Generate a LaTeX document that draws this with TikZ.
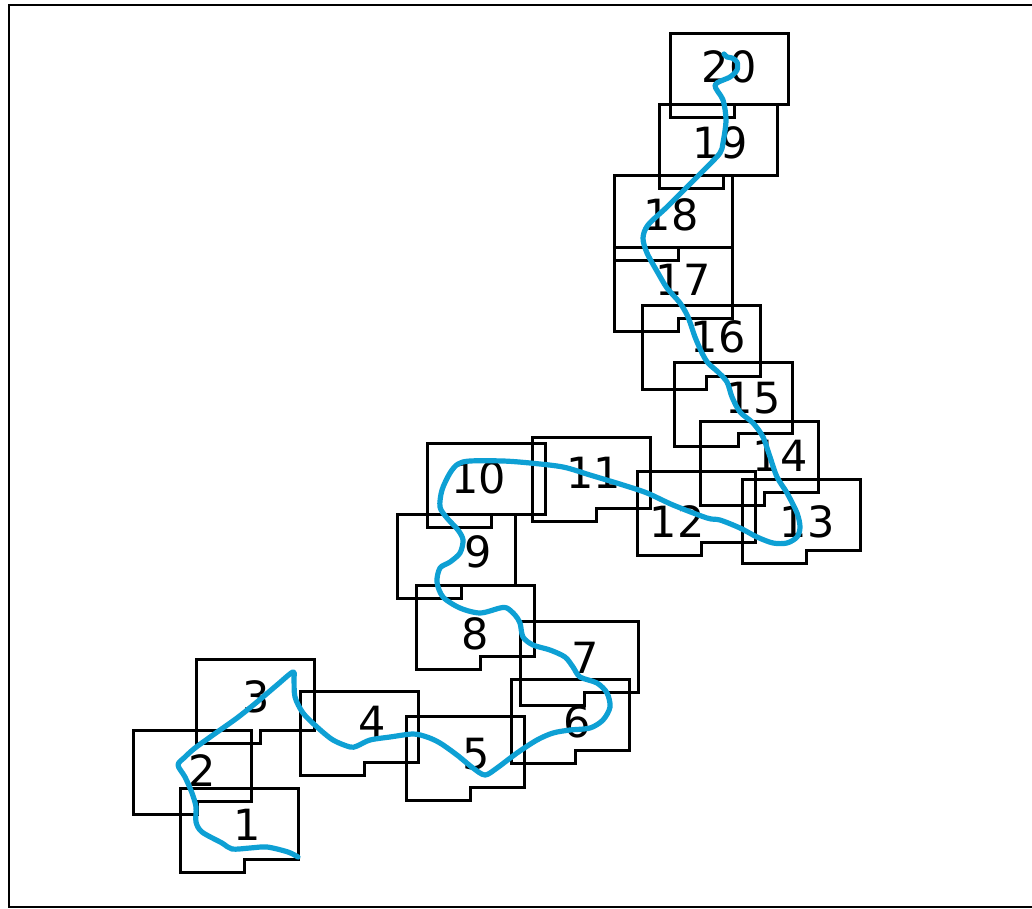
\documentclass[tikz,border=0pt]{standalone}
\usepackage{fontspec}
\setsansfont{DejaVu Sans}
\usetikzlibrary{positioning}
\definecolor{trackblue}{RGB}{14,160,212}

\begin{document}
\begin{tikzpicture}[x=1pt, y=-1pt,
    zone/.style={draw=black, line width=3pt, line join=miter},
    zlbl/.style={font=\sffamily\fontsize{43}{43}\selectfont, inner sep=0pt},
    track/.style={draw=trackblue, line width=5.2pt, line cap=round, line join=round}
  ]
  \useasboundingbox (0,0) rectangle (1032,909);
  \draw[line width=2pt] (1040,5) -- (9,5) -- (9,907) -- (1040,907);
  % zones with their numbers
  \foreach \n/\zx/\zy/\lx/\ly in {1/180/788/247/825, 2/133/730/202/771, 3/196/659/256/697,
      4/300/691/372/722, 5/406/716/476/754, 6/511/679/577/722, 7/520/621/585/658,
      8/416/585/475/634, 9/397/514/478/552, 10/427/443/479/478, 11/532/437/594/473,
      12/637/471/677/522, 13/742/479/807/522, 14/700/421/780/456, 15/674/362/753/398,
      16/642/305/718/337, 17/614/247/683/280, 18/614/176/671/215, 19/659/105/720/143,
      20/670/34/729/67} {
    \draw[zone] (\zx,\zy) -- ++(118,0) -- ++(0,71) -- ++(-54,0) -- ++(0,13) -- ++(-64,0) -- cycle;
    \node[zlbl] (z\n) at (\lx,\ly) {\n};
  }
  % track
  \draw[track] plot[smooth, tension=0.5] coordinates {
    (298,857) (288,852) (267,847) (250,848) (232,849) (222,843) (202,832) (196,822)
    (196,807) (192,793) (185,777) (178,765) (185,757) (195,748) (213,735) (237,718)
    (257,702) (277,685) (293,672) (294,680) (295,697) (303,713) (317,727) (333,740)
    (350,747) (357,746) (370,740) (390,737) (413,734) (427,737) (440,743) (457,755)
    (473,768) (485,775) (497,768) (517,753) (537,740) (553,733) (570,730) (590,728)
    (603,720) (610,707) (607,693) (597,683) (580,677) (573,667) (565,657) (550,650)
    (533,645) (523,637) (520,623) (515,615) (507,608) (500,608) (480,613) (460,608)
    (443,597) (437,582) (440,568) (450,562) (460,553) (463,540) (458,530) (447,518)
    (440,507) (442,490) (450,473) (458,464) (470,461) (503,461) (530,463) (563,467)
    (590,475) (623,485) (647,493) (673,505) (707,518) (720,520) (740,528) (757,537)
    (773,543) (787,543) (797,537) (800,527) (797,513) (787,493) (777,477) (770,457)
    (763,437) (753,423) (740,412) (732,397) (727,382) (718,372) (708,363) (702,353)
    (695,337) (688,317) (680,303) (667,288) (658,273) (647,253) (643,238) (648,225)
    (667,207) (687,187) (707,167) (720,153) (723,143) (726,120) (723,100) (715,85)
    (730,77) (737,70) (737,62) (732,58) (727,57) (724,54)};
\end{tikzpicture}
\end{document}
